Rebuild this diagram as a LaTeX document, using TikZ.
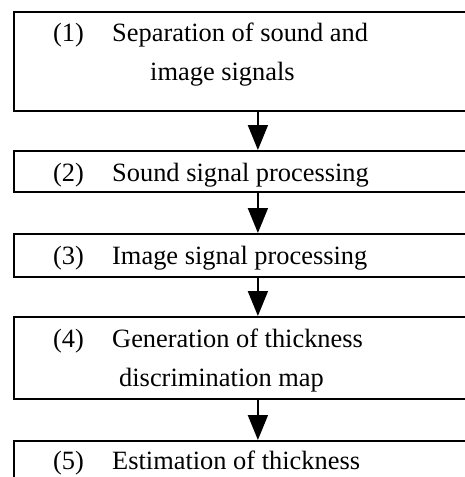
\documentclass[tikz,border=0pt]{standalone}
\usepackage{fontspec}
\setmainfont{Liberation Serif}
\usetikzlibrary{arrows.meta}

\begin{document}
\begin{tikzpicture}[x=1pt,y=-1pt,
  stage/.style={draw, line width=1.8pt, anchor=north west,
                minimum width=488pt, inner sep=0pt},
  flow/.style={-{Triangle[length=25pt,width=20pt]}, line width=1.8pt},
  lbl/.style={anchor=base west, inner sep=0pt,
              font=\fontsize{26.4}{32}\selectfont}]
\useasboundingbox (0,0) rectangle (465,477);
\clip (0,0) rectangle (465,477);

% process stages (they run on past the right and bottom edges)
\node[stage, minimum height=99pt] (s1) at (13,11)  {};
\node[stage, minimum height=41pt] (s2) at (13,150) {};
\node[stage, minimum height=43pt] (s3) at (13,233) {};
\node[stage, minimum height=82pt] (s4) at (13,316) {};
\node[stage, minimum height=60pt] (s5) at (13,440) {};

% stage texts
\node[lbl] (n1)  at (53,41)   {(1)};
\node[lbl] (t1a) at (112,41)  {Separation of sound and};
\node[lbl] (t1b) at (150,80)  {image signals};
\node[lbl] (n2)  at (53,181)  {(2)};
\node[lbl] (t2)  at (112,181) {Sound signal processing};
\node[lbl] (n3)  at (53,264)  {(3)};
\node[lbl] (t3)  at (112,264) {Image signal processing};
\node[lbl] (n4)  at (53,347)  {(4)};
\node[lbl] (t4a) at (112,347) {Generation of thickness};
\node[lbl] (t4b) at (119,386) {discrimination map};
\node[lbl] (n5)  at (53,469)  {(5)};
\node[lbl] (t5)  at (112,469) {Estimation of thickness};

% flow between stages
\draw[flow] (s1) -- (s2);
\draw[flow] (s2) -- (s3);
\draw[flow] (s3) -- (s4);
\draw[flow] (s4) -- (s5);
\end{tikzpicture}
\end{document}
